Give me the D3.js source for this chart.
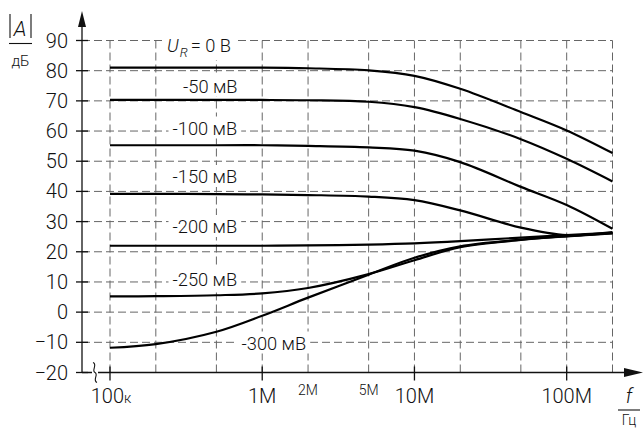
<!DOCTYPE html>
<html><head><meta charset="utf-8">
<script src="https://cdnjs.cloudflare.com/ajax/libs/d3/7.8.5/d3.min.js"></script>
<style>
html,body{margin:0;padding:0;background:#fff;}
text{font-family:"Roboto","Liberation Sans",Arial,sans-serif;font-weight:300;fill:#111;}
</style></head>
<body><svg id="c" width="643" height="431"></svg>
<script>
// ---- data ----
const freqs = [1e5, 2e5, 5e5, 1e6, 2e6, 5e6, 1e7, 2e7, 5e7, 1e8, 2e8];
const curve0   = [81, 81, 81, 81, 80.8, 80.1, 78.3, 74, 66.3, 60.2, 52.7];
const curve50  = [70.3, 70.3, 70.3, 70.3, 70.2, 69.7, 67.9, 64, 57.3, 50.8, 43.3];
const curve100 = [55.3, 55.3, 55.3, 55.3, 55.1, 54.6, 53.5, 49.7, 41.5, 35.5, 27.6];
const curve150 = [39.2, 39.2, 39.1, 39, 38.8, 38.3, 37.1, 33.7, 28, 25.5, 26.5];
const curve200 = [22, 22, 22, 22, 22.1, 22.4, 22.8, 23.5, 24.7, 25.5, 26.3];
const curve250 = [5.2, 5.3, 5.6, 6.2, 8, 12.6, 17.2, 21.5, 23.9, 25.1, 26.1];
const curve300 = [-11.8, -10.6, -6.5, -1.2, 4.8, 12.4, 18, 21.8, 24, 25.2, 26.2];
const series = [curve0, curve50, curve100, curve150, curve200, curve250, curve300];
const curveLabels = ["0 В", "-50 мВ", "-100 мВ", "-150 мВ", "-200 мВ", "-250 мВ", "-300 мВ"];
const yTicks = [90, 80, 70, 60, 50, 40, 30, 20, 10, 0, -10, -20];
const yTickLabels = ["90","80","70","60","50","40","30","20","10","0","\u221210","\u221220"];
const gridFreqs = [1e5, 2e5, 5e5, 1e6, 2e6, 5e6, 1e7, 2e7, 5e7, 1e8, 2e8];
const majorFreqs = [1e5, 1e6, 1e7, 1e8];
const majorLabels = ["100", "1M", "10M", "100M"];
const minorFreqs = [2e6, 5e6];
const minorLabels = ["2M", "5M"];

// ---- layout ----
const svg = d3.select("#c");
const x = d3.scaleLog().domain([1e5, 2e8]).range([110, 612.5]);
const y = d3.scaleLinear().domain([-20, 90]).range([372.5, 40.5]);
const axisX = 82;
const gridColor = "#666";

// grid
const g = svg.append("g");
g.selectAll("line.h").data(yTicks.filter(v => v > -20)).join("line")
  .attr("x1", axisX).attr("x2", x(2e8))
  .attr("y1", d => y(d)).attr("y2", d => y(d))
  .attr("stroke", gridColor).attr("stroke-width", 1).attr("stroke-dasharray", "8,4");
g.selectAll("line.v").data(gridFreqs).join("line")
  .attr("x1", d => x(d)).attr("x2", d => x(d))
  .attr("y1", y(90)).attr("y2", y(-20))
  .attr("stroke", gridColor).attr("stroke-width", 1).attr("stroke-dasharray", "8,4");

// curve labels with white boxes
const labelPos = [
  null,
  [183, 92.7], [172.5, 134.5], [172.5, 183], [172.5, 233], [172.5, 286], [241.5, 349.5]
];
const lg = svg.append("g");
function boxed(node){
  const b = node.node().getBBox();
  lg.insert("rect", () => node.node())
    .attr("x", b.x - 4).attr("y", b.y - 1).attr("width", b.width + 8).attr("height", b.height + 1)
    .attr("fill", "#fff");
}
for (let i = 1; i < curveLabels.length; i++) {
  const t = lg.append("text").attr("x", labelPos[i][0]).attr("y", labelPos[i][1])
    .attr("font-size", 18.3).text(curveLabels[i]);
  boxed(t);
}
{
  const t = lg.append("text").attr("x", 167).attr("y", 52).attr("font-size", 18.3);
  t.append("tspan").attr("font-style", "italic").text("U");
  t.append("tspan").attr("font-style", "italic").attr("font-size", 13).attr("dy", 5).attr("dx", 1).text("R");
  t.append("tspan").attr("dy", -5).attr("dx", 3).text("= " + curveLabels[0]);
  boxed(t);
}

// curves
const line = d3.line().x((d, i) => x(freqs[i])).y(d => y(d)).curve(d3.curveCatmullRom.alpha(0.5));
svg.append("g").selectAll("path").data(series).join("path")
  .attr("d", d => line(d)).attr("fill", "none").attr("stroke", "#000").attr("stroke-width", 2.2);

// axes
const ax = svg.append("g").attr("stroke", "#111").attr("stroke-width", 1.3);
ax.append("line").attr("x1", axisX).attr("x2", axisX).attr("y1", y(-20)).attr("y2", 26);
ax.append("line").attr("x1", axisX).attr("x2", 625).attr("y1", y(-20)).attr("y2", y(-20));
svg.append("path").attr("d", `M${axisX},11 L${axisX-4},27 L${axisX+4},27 Z`).attr("fill", "#111");
svg.append("path").attr("d", `M643,${y(-20)} L624,${y(-20)-4.5} L624,${y(-20)+4.5} Z`).attr("fill", "#111");
ax.selectAll("line.yt").data(yTicks).join("line")
  .attr("x1", axisX - 6).attr("x2", axisX + 6).attr("y1", d => y(d)).attr("y2", d => y(d));
ax.selectAll("line.xt").data(majorFreqs).join("line")
  .attr("x1", d => x(d)).attr("x2", d => x(d)).attr("y1", y(-20) - 6).attr("y2", y(-20) + 8);
// axis break
svg.append("rect").attr("x", 92).attr("y", y(-20) - 2).attr("width", 6).attr("height", 4).attr("fill", "#fff");
svg.append("path").attr("d", `M93,${y(-20)-10} C98,${y(-20)-8} 91,${y(-20)-2} 95,${y(-20)} C99,${y(-20)+2} 92,${y(-20)+8} 97,${y(-20)+10}`)
  .attr("fill", "none").attr("stroke", "#111").attr("stroke-width", 1.1);

// y tick labels
svg.selectAll("text.yl").data(yTicks).join("text")
  .attr("x", 68).attr("y", d => y(d) + 7).attr("text-anchor", "end").attr("font-size", 20)
  .text((d, i) => yTickLabels[i]);
// x tick labels
const xl = svg.selectAll("text.xl").data(majorFreqs).join("text")
  .attr("x", (d, i) => x(d) + (i === 0 ? 1 : 0)).attr("y", 403).attr("text-anchor", "middle").attr("font-size", 20);
xl.each(function(d, i){
  const t = d3.select(this);
  t.append("tspan").text(majorLabels[i]);
  if (i === 0) t.append("tspan").attr("font-size", 14).text("к");
});
svg.selectAll("text.xm").data(minorFreqs).join("text")
  .attr("x", d => x(d)).attr("y", 395).attr("text-anchor", "middle").attr("font-size", 14)
  .text((d, i) => minorLabels[i]);

// unit labels
svg.append("text").attr("x", 20).attr("y", 36).attr("text-anchor", "middle").attr("font-size", 21)
  .attr("font-style", "italic").text("A");
svg.append("line").attr("x1", 10).attr("x2", 10).attr("y1", 14).attr("y2", 38).attr("stroke", "#111").attr("stroke-width", 1.1);
svg.append("line").attr("x1", 31).attr("x2", 31).attr("y1", 14).attr("y2", 38).attr("stroke", "#111").attr("stroke-width", 1.1);
svg.append("line").attr("x1", 9).attr("x2", 32).attr("y1", 43.5).attr("y2", 43.5).attr("stroke", "#111").attr("stroke-width", 1.1);
svg.append("text").attr("x", 20.5).attr("y", 66).attr("text-anchor", "middle").attr("font-size", 15).text("дБ");
svg.append("text").attr("x", 629).attr("y", 403).attr("text-anchor", "middle").attr("font-size", 20)
  .attr("font-style", "italic").text("f");
svg.append("line").attr("x1", 618).attr("x2", 640).attr("y1", 410).attr("y2", 410).attr("stroke", "#111").attr("stroke-width", 1.1);
svg.append("text").attr("x", 629).attr("y", 425).attr("text-anchor", "middle").attr("font-size", 14).text("Гц");
</script></body></html>
